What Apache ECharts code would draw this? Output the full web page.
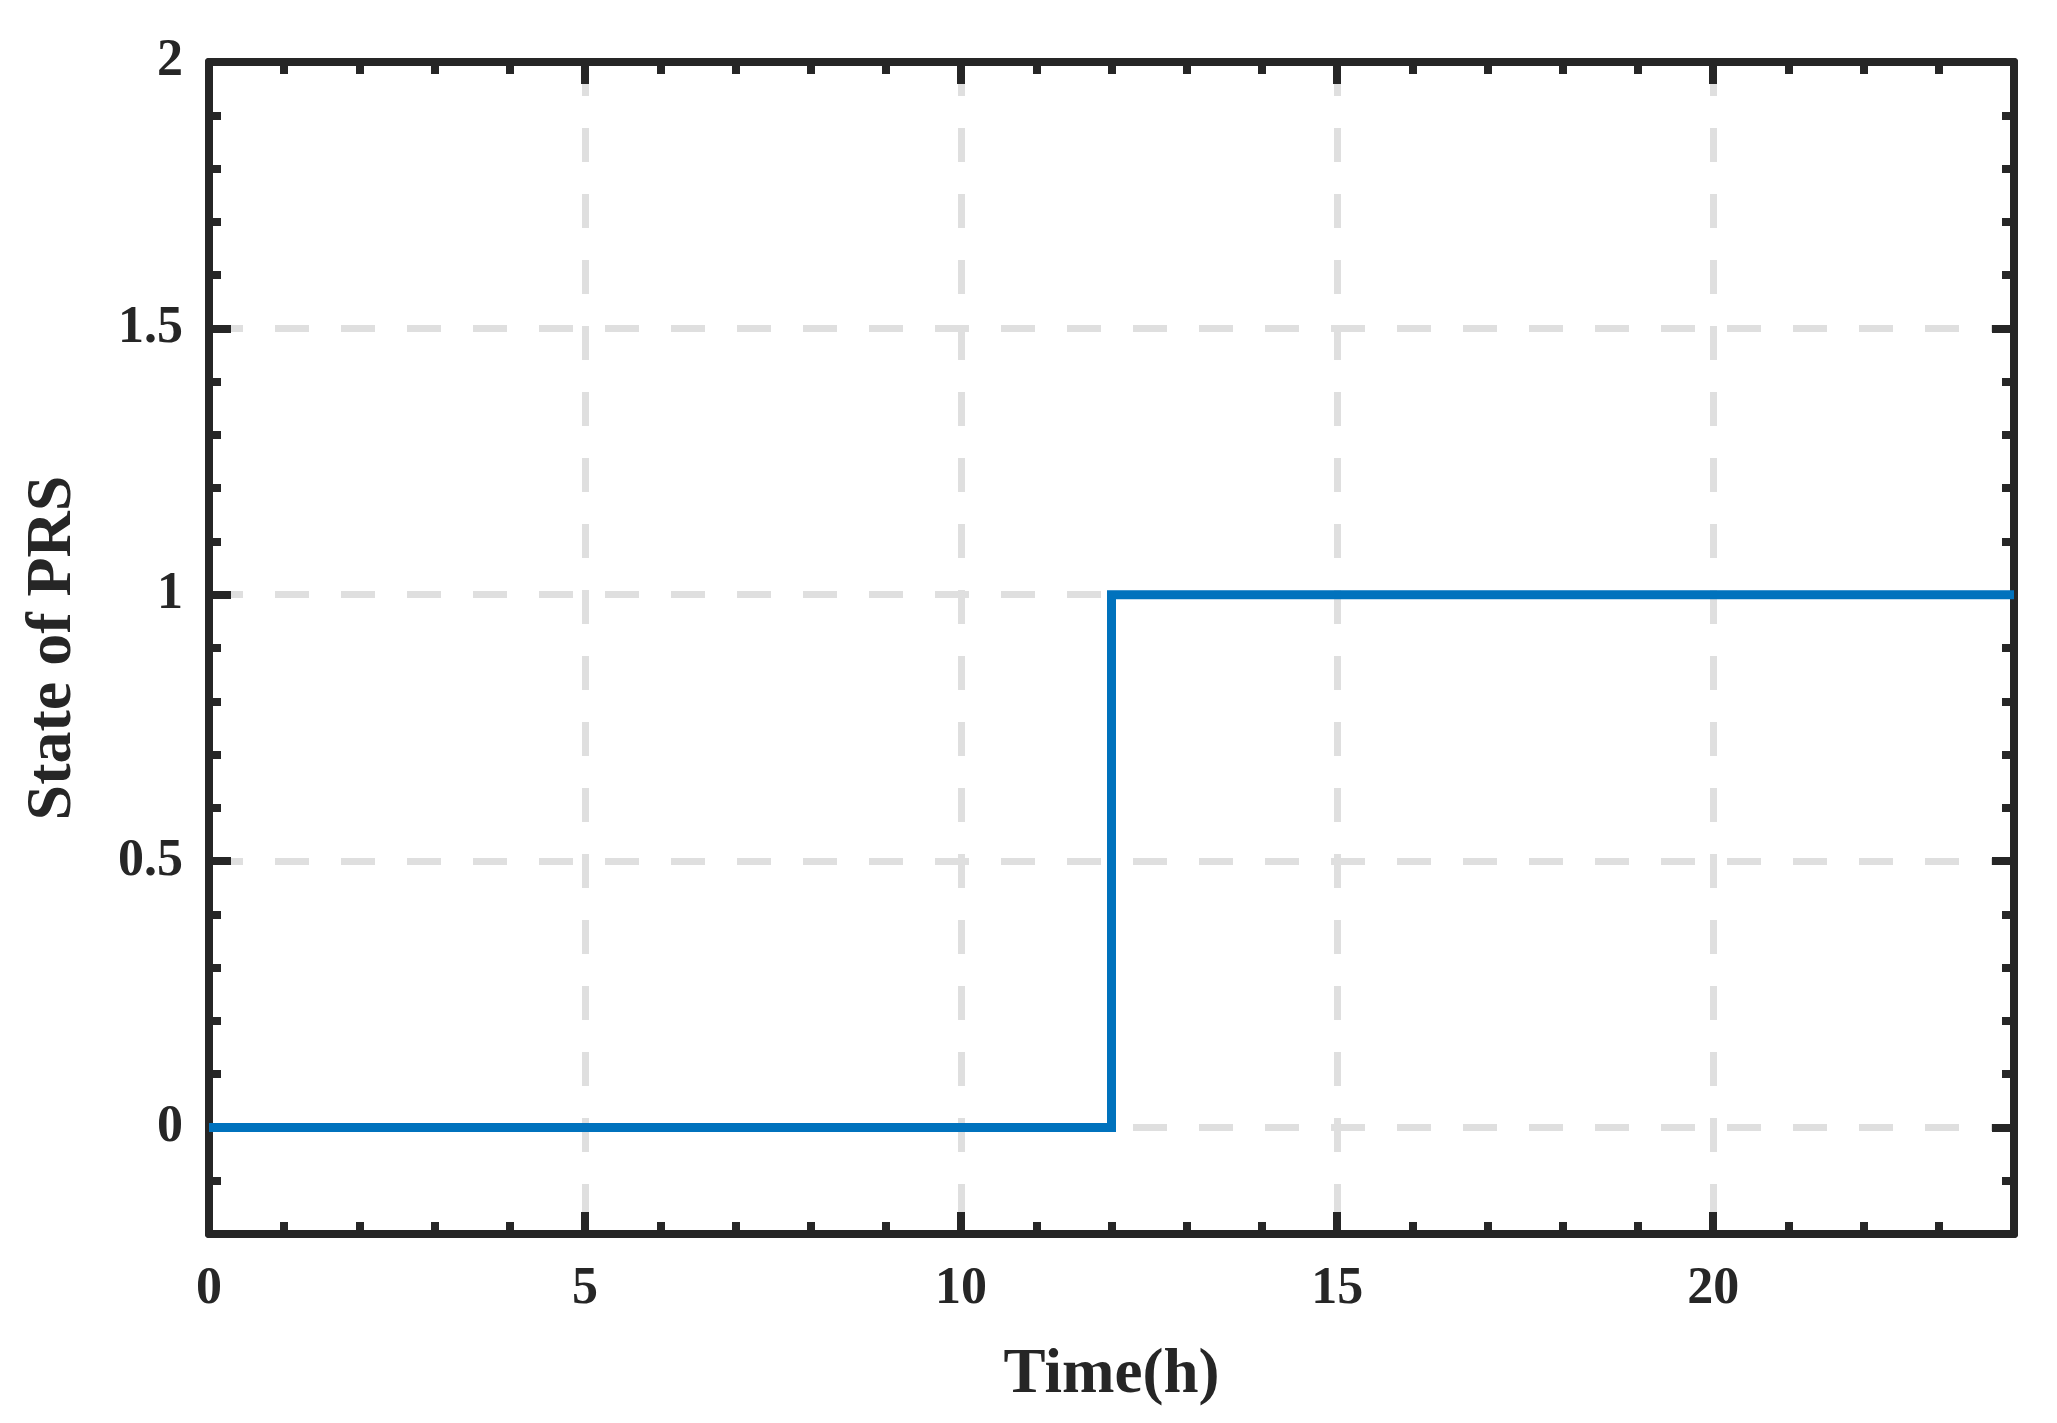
<!DOCTYPE html>
<html>
<head>
<meta charset="utf-8">
<title>State of PRS</title>
<script src="https://cdn.jsdelivr.net/npm/echarts@6/dist/echarts.min.js"></script>
<style>
  html, body { margin: 0; padding: 0; background: #fff; }
  #chart { width: 2057px; height: 1423px; }
</style>
</head>
<body>
<div id="chart"></div>
<script>
// step data: PRS switches on at 12h
const timeH = [0, 12, 12, 24];
const prsState = [0, 0, 1, 1];

const xMin = 0, xMax = 24, xStep = 5;
const yMin = -0.2, yMax = 2;

const axisColor = "#262626";
const fontFamily = "'Liberation Serif', 'DejaVu Serif', serif";

const frameAxis = {
  axisLine: { show: true, onZero: false, lineStyle: { color: axisColor, width: 8 } },
  axisTick: { show: true, inside: true, length: 22, lineStyle: { color: axisColor, width: 8 } },
  minorTick: { show: true, splitNumber: 5, length: 12, lineStyle: { color: axisColor, width: 8 } },
  splitLine: { show: false },
  axisLabel: { show: false }
};

const gridLine = {
  show: true,
  lineStyle: { color: "#dfdfdf", width: 7, type: [34, 32] }
};

const myChart = echarts.init(document.getElementById("chart"));

const option = {
  backgroundColor: "#fff",
  animation: false,
  grid: { left: 209, right: 43, top: 62, bottom: 189, containLabel: false },
  xAxis: [
    Object.assign({}, frameAxis, {
      type: "value",
      position: "bottom",
      min: xMin, max: xMax, interval: xStep,
      splitLine: gridLine,
      axisLabel: {
        show: true, margin: 30, showMaxLabel: false,
        color: axisColor, fontFamily: fontFamily, fontWeight: "bold", fontSize: 52
      },
      name: "Time(h)",
      nameLocation: "middle",
      nameGap: 110,
      nameTextStyle: { color: axisColor, fontFamily: fontFamily, fontWeight: "bold", fontSize: 63 }
    }),
    Object.assign({}, frameAxis, {
      type: "value",
      position: "top",
      min: xMin, max: xMax, interval: xStep
    })
  ],
  yAxis: [
    Object.assign({}, frameAxis, {
      type: "value",
      position: "left",
      min: yMin, max: yMax, splitNumber: 5,
      splitLine: gridLine,
      axisLabel: {
        show: true, margin: 26, showMinLabel: false,
        color: axisColor, fontFamily: fontFamily, fontWeight: "bold", fontSize: 52
      },
      name: "State of PRS",
      nameLocation: "middle",
      nameGap: 124,
      nameTextStyle: { color: axisColor, fontFamily: fontFamily, fontWeight: "bold", fontSize: 64 }
    }),
    Object.assign({}, frameAxis, {
      type: "value",
      position: "right",
      min: yMin, max: yMax, splitNumber: 5
    })
  ],
  series: [
    {
      name: "PRS",
      type: "line",
      xAxisIndex: 0,
      yAxisIndex: 0,
      data: timeH.map((t, i) => [t, prsState[i]]),
      showSymbol: false,
      symbol: "none",
      lineStyle: { color: "#0072BD", width: 9, join: "miter" },
      z: 3
    }
  ]
};

myChart.setOption(option);
</script>
</body>
</html>
